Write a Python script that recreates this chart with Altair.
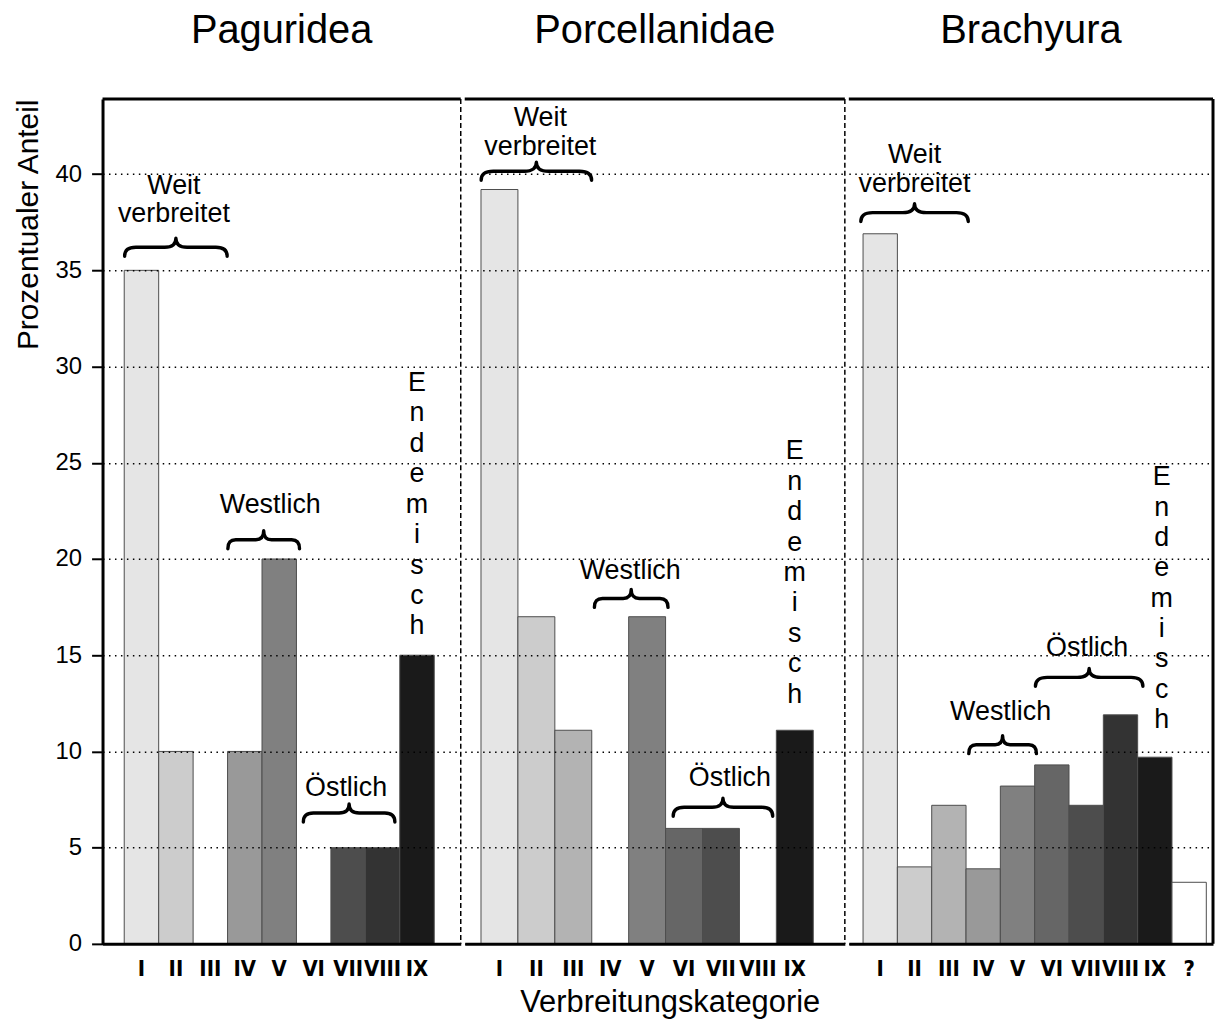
import altair as alt
import pandas as pd

# ---------------- data ----------------
categories = ["I", "II", "III", "IV", "V", "VI", "VII", "VIII", "IX"]
categories_bra = ["I", "II", "III", "IV", "V", "VI", "VII", "VIII", "IX", "?"]
gray_fills = ["#e5e5e5", "#cccccc", "#b3b3b3", "#999999", "#808080",
              "#666666", "#4d4d4d", "#333333", "#1a1a1a", "#ffffff"]

paguridea_values = [35.0, 10.0, 0.0, 10.0, 20.0, 0.0, 5.0, 5.0, 15.0]
porcellanidae_values = [39.2, 17.0, 11.1, 0.0, 17.0, 6.0, 6.0, 0.0, 11.1]
brachyura_values = [36.9, 4.0, 7.2, 3.9, 8.2, 9.3, 7.2, 11.9, 9.7, 3.2]

panel_titles = ["Paguridea", "Porcellanidae", "Brachyura"]
y_ticks = [0, 5, 10, 15, 20, 25, 30, 35, 40]
y_max = 43.9

ENDEMISCH = "\n".join("Endemisch")
WEIT = "Weit\nverbreitet"

# annotation anchors (first text line): (text, category, y value, pixel nudge, line height)
pag_labels = [(WEIT, "II", 39.4, -2, 29), ("Westlich", "V", 22.8, -9, 29),
              ("Östlich", "VII", 8.1, -2, 29), (ENDEMISCH, "IX", 29.15, 0, 30.6)]
por_labels = [(WEIT, "II", 42.9, 4, 29), ("Westlich", "V", 19.35, -17, 29),
              ("Östlich", "VII", 8.6, 9, 29), (ENDEMISCH, "IX", 25.6, 0, 30.6)]
bra_labels = [(WEIT, "II", 41.0, 0, 29), ("Westlich", "V", 12.05, -17, 29),
              ("Östlich", "VII", 15.35, 1, 29), (ENDEMISCH, "IX", 24.25, 7, 30.5)]

# braces: (category, y value, pixel nudge, brace width px)
pag_braces = [("II", 36.2, 0, 103), ("IV", 21.0, 19, 72), ("VII", 6.8, 1, 92)]
por_braces = [("II", 40.15, 0, 111), ("V", 17.95, -16, 74), ("VII", 7.1, 2, 100)]
bra_braces = [("II", 38.0, 0, 108), ("V", 10.35, -15, 68), ("VII", 13.85, 3, 108)]

FONT = "Liberation Sans"
LABEL_FONT = "'Liberation Sans Narrow', 'DejaVu Sans Condensed', 'Liberation Sans'"
PLOT_H = 849


def brace_path(w, h, dx):
    W = w / 2.0
    H = h / 2.0
    q = min(W * 0.22, 14.0)
    pts = [
        ("M", [(-W, H)]),
        ("Q", [(-W, 0), (-W + q, 0)]),
        ("L", [(-q, 0)]),
        ("Q", [(0, 0), (0, -H)]),
        ("Q", [(0, 0), (q, 0)]),
        ("L", [(W - q, 0)]),
        ("Q", [(W, 0), (W, H)]),
    ]
    parts = []
    for cmd, ps in pts:
        coords = " ".join(f"{(x + dx) / W:.4f},{y / W:.4f}" for x, y in ps)
        parts.append(f"{cmd} {coords}")
    return " ".join(parts)


def make_panel(idx, cats, values, labels, braces, width, p_outer, align, right_dashed):
    df = pd.DataFrame({"cat": cats, "value": values})

    x_axis_kw = dict(
        labelAngle=0, ticks=False, tickSize=0, grid=False,
        domain=True, domainWidth=3, domainColor="black",
        labelFont=LABEL_FONT, labelFontWeight="bold",
        labelFontSize=22, labelColor="black", labelPadding=15,
        labelOverlap=False,
        titleFont=FONT, titleFontSize=31, titleFontWeight="normal",
        titleColor="black", titlePadding=8, zindex=1,
    )
    if idx == 1:
        x_axis = alt.Axis(title="Verbreitungskategorie", titleX=206, **x_axis_kw)
    else:
        x_axis = alt.Axis(title=None, **x_axis_kw)

    if idx == 0:
        y_axis = alt.Axis(
            values=y_ticks, grid=True, gridDash=[1.5, 4.5], gridWidth=1.5,
            gridColor="black", gridOpacity=1,
            domain=True, domainWidth=3, domainColor="black",
            ticks=True, tickSize=11, tickWidth=2, tickColor="black",
            labelFont=FONT, labelFontSize=24, labelColor="black", labelPadding=10,
            title="Prozentualer Anteil", titleFont=FONT, titleFontSize=30,
            titleFontWeight="normal", titleColor="black", titleAnchor="end",
            titlePadding=12, zindex=1,
        )
    else:
        y_axis = alt.Axis(
            values=y_ticks, grid=True, gridDash=[1.5, 4.5], gridWidth=1.5,
            gridColor="black", gridOpacity=1,
            domain=False, ticks=False, labels=False, title=None, zindex=1,
        )

    xs = alt.X("cat:N", scale=alt.Scale(domain=cats, paddingInner=0,
                                        paddingOuter=p_outer, align=align),
               axis=x_axis)
    ys = alt.Y("value:Q", scale=alt.Scale(domain=[0, y_max], nice=False, zero=True),
               axis=y_axis)

    bars = alt.Chart(df).transform_filter("datum.value > 0").mark_bar(
        stroke="#4d4d4d", strokeWidth=1
    ).encode(
        x=xs, y=ys,
        color=alt.Color("cat:N", scale=alt.Scale(domain=categories_bra, range=gray_fills),
                        legend=None),
    )
    layers = [bars]

    for text, cat, v, dx, lh in labels:
        d = pd.DataFrame({"cat": [cat], "value": [v], "label": [text]})
        layers.append(
            alt.Chart(d).mark_text(
                dx=dx, lineBreak="\n", lineHeight=lh, fontSize=27, font=FONT,
                color="black", baseline="middle", align="center",
            ).encode(x=xs, y=ys, text="label:N")
        )

    for cat, v, dx, w in braces:
        d = pd.DataFrame({"cat": [cat], "value": [v]})
        layers.append(
            alt.Chart(d).mark_point(
                shape=brace_path(w, 18, dx), size=w * w, filled=False,
                stroke="black", strokeWidth=3.4, opacity=1, strokeCap="round",
                strokeJoin="round",
            ).encode(x=xs, y=ys)
        )

    one = pd.DataFrame({"a": [0]})
    layers.append(
        alt.Chart(one).mark_rule(color="black", strokeWidth=3).encode(
            x=alt.value(0), x2=alt.value(width), y=alt.value(0)
        )
    )
    if right_dashed:
        layers.append(
            alt.Chart(one).mark_rule(color="black", strokeWidth=1.5, strokeDash=[5, 3]).encode(
                x=alt.value(width), y=alt.value(0), y2=alt.value(PLOT_H)
            )
        )
    else:
        layers.append(
            alt.Chart(one).mark_rule(color="black", strokeWidth=3).encode(
                x=alt.value(width), y=alt.value(0), y2=alt.value(PLOT_H)
            )
        )

    return alt.layer(*layers).properties(
        width=width, height=PLOT_H,
        title=alt.TitleParams(panel_titles[idx], font=FONT, fontSize=40,
                              fontWeight="normal", color="black", anchor="middle",
                              offset=47),
    )


p1 = make_panel(0, categories, paguridea_values, pag_labels, pag_braces, 360, 0.70, 0.45, True)
p2 = make_panel(1, categories, porcellanidae_values, por_labels, por_braces, 382, 0.648, 0.34, True)
p3 = make_panel(2, categories_bra, brachyura_values, bra_labels, bra_braces, 366, 0.305, 0.68, False)

chart = alt.hconcat(p1, p2, p3, spacing=0).configure_view(stroke=None).properties(
    padding={"left": 5, "top": 0, "right": 0, "bottom": 0}, background="white"
)

chart.save("out.html", embed_options={"renderer": "svg", "actions": False})
